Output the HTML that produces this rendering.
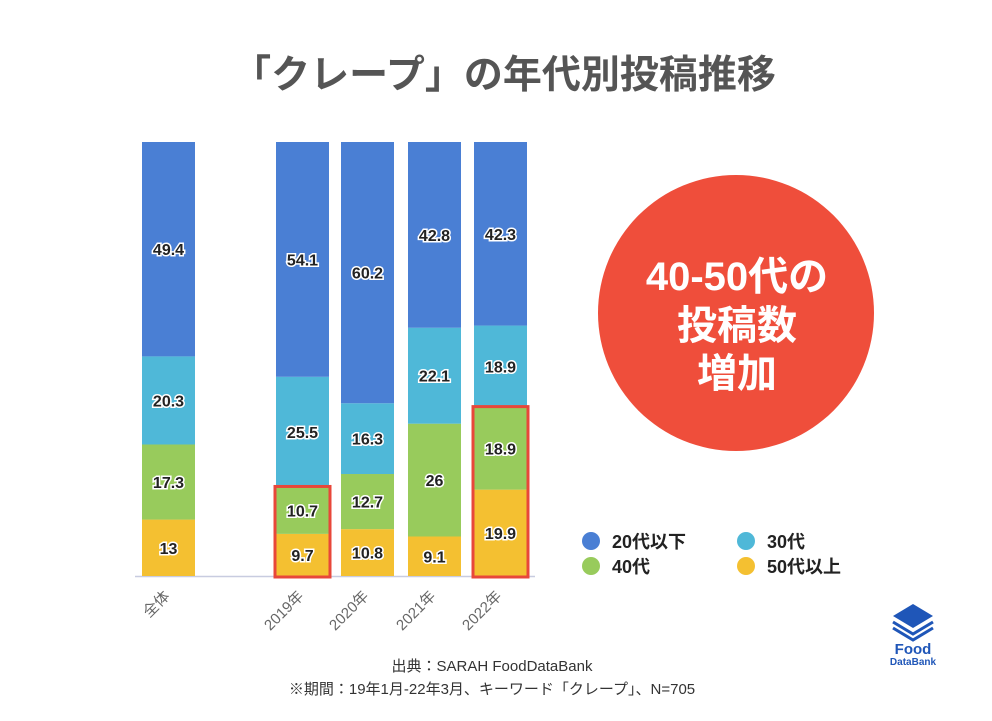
<!DOCTYPE html>
<html><head><meta charset="utf-8"><style>
body{margin:0;width:992px;height:716px;background:#fff;overflow:hidden;font-family:"Liberation Sans","Noto Sans CJK JP",sans-serif}
</style></head><body>
<svg id="c" width="992" height="716" xmlns="http://www.w3.org/2000/svg">
<text x="504" y="88" text-anchor="middle" font-size="39" font-weight="bold" fill="#555" font-family="Liberation Sans, Noto Sans CJK JP, sans-serif">「クレープ」の年代別投稿推移</text>
<line x1="135" y1="576.5" x2="535" y2="576.5" stroke="#c8cce0" stroke-width="1.5"/>
<g id="bars"></g>
<circle cx="736" cy="313" r="138" fill="#ef4e3b"/>
<g font-size="40" font-weight="bold" fill="#fff" text-anchor="middle" font-family="Liberation Sans, Noto Sans CJK JP, sans-serif">
<text x="737" y="290">40-50代の</text><text x="737" y="339">投稿数</text><text x="737" y="387">増加</text></g>
<g font-size="18" fill="#222" font-weight="bold" font-family="Liberation Sans, Noto Sans CJK JP, sans-serif">
<circle cx="591" cy="541" r="9" fill="#4a7fd4"/><text x="612" y="548">20代以下</text>
<circle cx="746" cy="541" r="9" fill="#4fb8d8"/><text x="767" y="548">30代</text>
<circle cx="591" cy="566" r="9" fill="#98cb5c"/><text x="612" y="573">40代</text>
<circle cx="746" cy="566" r="9" fill="#f4c031"/><text x="767" y="573">50代以上</text>
</g>
<g font-size="15" fill="#333" text-anchor="middle" font-family="Liberation Sans, Noto Sans CJK JP, sans-serif">
<text x="492" y="671">出典：SARAH FoodDataBank</text>
<text x="492" y="694">※期間：19年1月-22年3月、キーワード「クレープ」、N=705</text></g>
<g>
<path d="M893 616 L913 604 L933 616 L913 628 Z" fill="#1f56b8"/>
<path d="M893 622 L913 634 L933 622" fill="none" stroke="#1f56b8" stroke-width="3"/>
<path d="M893 628 L913 640 L933 628" fill="none" stroke="#1f56b8" stroke-width="3"/>
<text x="913" y="654" text-anchor="middle" font-size="15" font-weight="bold" fill="#1f56b8">Food</text>
<text x="913" y="665" text-anchor="middle" font-size="10" font-weight="bold" fill="#1f56b8">DataBank</text>
</g>
</svg>
<script>
const categories=["全体","2019年","2020年","2021年","2022年"];
const s50=[13,9.7,10.8,9.1,19.9];
const s40=[17.3,10.7,12.7,26,18.9];
const s30=[20.3,25.5,16.3,22.1,18.9];
const s20=[49.4,54.1,60.2,42.8,42.3];
const highlighted=[1,4];
const series=[s50,s40,s30,s20];
const colors=["#f4c031","#98cb5c","#4fb8d8","#4a7fd4"];
const names=["50s","40s","30s","20s"];
const xs=[142,276,341,408,474];
const bw=53,base=576,h=434;
const g=document.getElementById('bars');
const NS="http://www.w3.org/2000/svg";
function yScale(v){return base-v*h/100;}
categories.forEach((c,i)=>{
  const tot=series.reduce((a,s)=>a+s[i],0);
  let cum=0;
  series.forEach((s,k)=>{
    const y0=yScale(cum*100/tot), y1=yScale((cum+s[i])*100/tot);
    const r=document.createElementNS(NS,'rect');
    r.setAttribute('x',xs[i]);r.setAttribute('y',y1);r.setAttribute('width',bw);r.setAttribute('height',y0-y1);r.setAttribute('fill',colors[k]);
    
    
    g.appendChild(r);
    const t=document.createElementNS(NS,'text');
    t.setAttribute('x',xs[i]+bw/2);t.setAttribute('y',(y0+y1)/2+6);t.setAttribute('text-anchor','middle');
    t.setAttribute('font-size','16');t.setAttribute('font-weight','bold');t.setAttribute('fill','#222');
    t.setAttribute('stroke','#fff');t.setAttribute('stroke-width','3');t.setAttribute('paint-order','stroke');
    t.textContent=s[i];
    
    
    g.appendChild(t);
    cum+=s[i];
  });
  const l=document.createElementNS(NS,'text');
  const lx=xs[i]+bw/2+2, ly=597;
  l.setAttribute('x',lx);l.setAttribute('y',ly);l.setAttribute('text-anchor','end');
  l.setAttribute('font-size','15');l.setAttribute('fill','#666');
  l.setAttribute('transform','rotate(-45 '+lx+' '+ly+')');
  l.textContent=c;
  
  
  g.appendChild(l);
});
highlighted.forEach(i=>{
  const tot=series.reduce((a,s)=>a+s[i],0);
  const top=yScale((s50[i]+s40[i])*100/tot);
  const r=document.createElementNS(NS,'rect');
  r.setAttribute('x',xs[i]-1);r.setAttribute('y',top-1);r.setAttribute('width',bw+2);r.setAttribute('height',base-top+2);
  r.setAttribute('fill','none');r.setAttribute('stroke','#e8473a');r.setAttribute('stroke-width','3');
  
  
  g.appendChild(r);
});
</script>
</body></html>
